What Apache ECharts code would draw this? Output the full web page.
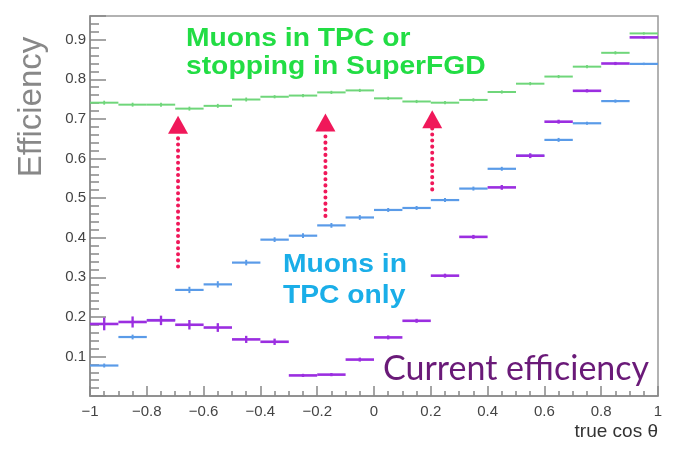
<!DOCTYPE html>
<html>
<head>
<meta charset="utf-8">
<script src="https://cdn.jsdelivr.net/npm/echarts@6/dist/echarts.min.js"></script>
<style>
html,body{margin:0;padding:0;background:#fff;}
#chart{width:673px;height:451px;}
</style>
</head>
<body>
<div id="chart"></div>
<script>
// Bin centers of true cos theta (bin width 0.1)
const binCenters = [-0.95,-0.85,-0.75,-0.65,-0.55,-0.45,-0.35,-0.25,-0.15,-0.05,0.05,0.15,0.25,0.35,0.45,0.55,0.65,0.75,0.85,0.95];
const binWidth = 0.1;
// Muons in TPC or stopping in SuperFGD
const greenEff = [0.741,0.736,0.736,0.726,0.733,0.749,0.756,0.759,0.767,0.772,0.752,0.744,0.741,0.748,0.768,0.789,0.807,0.832,0.867,0.916];
const greenErr = [0.005,0.005,0.005,0.005,0.005,0.005,0.004,0.004,0.004,0.004,0.004,0.004,0.004,0.004,0.004,0.004,0.004,0.004,0.004,0.003];
// Muons in TPC only
const blueEff = [0.077,0.149,0.192,0.268,0.282,0.337,0.395,0.405,0.431,0.451,0.470,0.475,0.495,0.524,0.574,0.607,0.647,0.689,0.745,0.839];
const blueErr = [0.005,0.006,0.01,0.008,0.008,0.007,0.006,0.006,0.006,0.006,0.005,0.005,0.005,0.005,0.005,0.005,0.005,0.004,0.004,0.003];
// Current efficiency
const purpleEff = [0.182,0.187,0.191,0.180,0.173,0.143,0.137,0.052,0.054,0.092,0.148,0.190,0.304,0.402,0.527,0.607,0.693,0.771,0.840,0.906];
const purpleErr = [0.016,0.014,0.012,0.012,0.011,0.009,0.008,0.004,0.004,0.005,0.005,0.005,0.005,0.005,0.006,0.006,0.005,0.004,0.004,0.003];
// Dotted arrows: x, start y, tip y
const arrowX = [-0.69,-0.171,0.205];
const arrowY0 = [0.327,0.455,0.522];
const arrowY1 = [0.708,0.714,0.722];
// Axis ticks
const xTicks = [-1,-0.8,-0.6,-0.4,-0.2,0,0.2,0.4,0.6,0.8,1];
const yTicks = [0.1,0.2,0.3,0.4,0.5,0.6,0.7,0.8,0.9];

function histSeries(name, vals, errs, color, lw) {
  return {
    type: 'custom', name: name,
    data: binCenters.map((c,i)=>[c, vals[i], errs[i]]),
    renderItem: function(params, api){
      const x = api.value(0), y = api.value(1), e = api.value(2);
      const a = api.coord([x - binWidth/2, y]);
      const b = api.coord([x + binWidth/2, y]);
      const t = api.coord([x, y + e]);
      const d = api.coord([x, y - e]);
      return {type:'group', children:[
        {type:'line', shape:{x1:a[0],y1:a[1],x2:b[0],y2:b[1]}, style:{stroke:color,lineWidth:lw}},
        {type:'line', shape:{x1:t[0],y1:t[1],x2:d[0],y2:d[1]}, style:{stroke:color,lineWidth:lw*0.9}}
      ]};
    },
    z: 3
  };
}

const chart = echarts.init(document.getElementById('chart'));
const fmt = v => {
  if (Math.abs(v) < 1e-9) return '0';
  const s = Math.abs(v).toFixed(1).replace(/\.0$/,'');
  return (v<0?'\u2212':'') + s;
};
chart.setOption({
  animation: false,
  grid: {left: 90, right: 15, top: 16, bottom: 55, show: true, borderColor: '#999', borderWidth: 1.5, backgroundColor:'#fff'},
  xAxis: {
    type: 'value', min: -1, max: 1, interval: 0.2,
    axisLine: {show: true, onZero: false, lineStyle: {color: '#888', width: 1.5}},
    axisTick: {show: true, inside: true, length: 10, lineStyle: {color: '#888', width: 1.5}},
    minorTick: {show: true, splitNumber: 4, length: 5, lineStyle: {color: '#888', width: 1.5}},
    splitLine: {show: false},
    axisLabel: {color: '#444', fontSize: 15, fontFamily: 'Liberation Sans, Arial', margin: 8,
      formatter: v => xTicks.some(t=>Math.abs(t-v)<1e-9) ? fmt(v) : ''}
  },
  yAxis: {
    type: 'value', min: 0, max: 0.96, interval: 0.1,
    axisLine: {show: true, onZero: false, lineStyle: {color: '#888', width: 1.5}},
    axisTick: {show: true, inside: true, length: 16, lineStyle: {color: '#888', width: 1.5}},
    minorTick: {show: true, splitNumber: 5, length: 9, lineStyle: {color: '#888', width: 1.5}},
    splitLine: {show: false},
    axisLabel: {color: '#444', fontSize: 15, fontFamily: 'Liberation Sans, Arial', margin: 4,
      showMaxLabel: false,
      formatter: v => yTicks.some(t=>Math.abs(t-v)<1e-9) ? v.toFixed(1) : ''}
  },
  graphic: [
    {type:'text', x: 186, y: 25, scaleX: 1.13, style:{text:'Muons in TPC or\nstopping in SuperFGD', fill:'#22dd44', font:'bold 25px "Liberation Sans", Arial', lineHeight: 28}},
    {type:'text', x: 283, y: 250, scaleX: 1.13, style:{text:'Muons in\nTPC only', fill:'#1aaee8', font:'bold 25px "Liberation Sans", Arial', lineHeight: 31}},
    {type:'text', x: 383, y: 350, style:{text:'Current efficiency', fill:'#6a1a78', font:'34px Lato', lineHeight: 38}},
    {type:'text', x: 658, y: 432, style:{text:'true cos \u03b8', fill:'#333', font:'19px "Liberation Sans", Arial', align:'right', verticalAlign:'middle'}},
    {type:'text', x: 32, y: 107, rotation: Math.PI/2, style:{text:'Efficiency', fill:'#888', font:'33px "Liberation Sans", Arial', align:'center', verticalAlign:'middle'}}
  ],
  series: [
    histSeries('green', greenEff, greenErr, '#6fd67a', 2),
    histSeries('blue', blueEff, blueErr, '#5a9be8', 2.2),
    histSeries('purple', purpleEff, purpleErr, '#9b2ee0', 2.6),
    {
      type: 'custom', name: 'arrows',
      data: arrowX.map((x,i)=>[x, arrowY0[i], arrowY1[i]]),
      renderItem: function(params, api){
        const x = api.value(0);
        const p0 = api.coord([x, api.value(1)]);
        const p1 = api.coord([x, api.value(2)]);
        const headH = 18, headW = 10;
        return {type:'group', children:[
          {type:'line', shape:{x1:p0[0],y1:p0[1],x2:p1[0],y2:p1[1]+headH}, style:{stroke:'#f0185a', lineWidth:4, lineDash:[0.1,6], lineCap:'round'}},
          {type:'polygon', shape:{points:[[p1[0],p1[1]],[p1[0]-headW,p1[1]+headH],[p1[0]+headW,p1[1]+headH]]}, style:{fill:'#f0185a'}}
        ]};
      },
      z: 4
    }
  ]
});
</script>
</body>
</html>
